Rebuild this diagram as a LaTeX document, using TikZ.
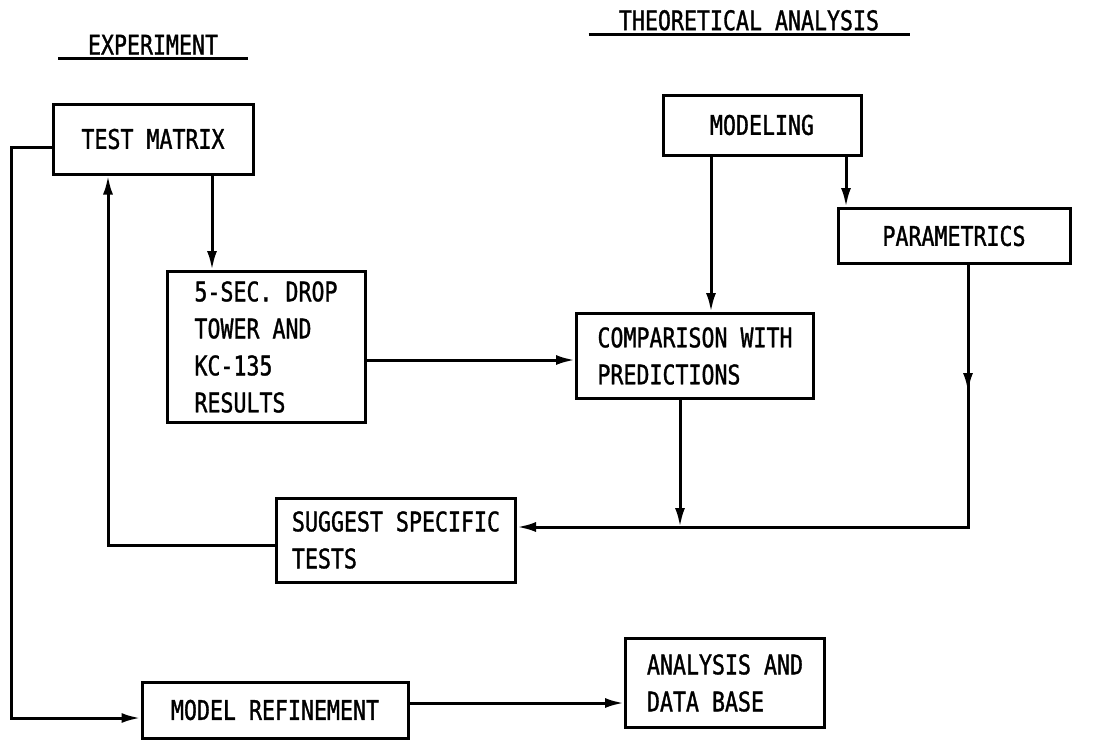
\documentclass[tikz,border=0pt]{standalone}
\usepackage{fontspec}
\setmainfont{DejaVu Sans Mono}[FakeStretch=0.8, FakeBold=1.2]
\usetikzlibrary{arrows.meta}

\begin{document}
\begin{tikzpicture}[x=1pt, y=-1pt, line width=3pt,
    every node/.style={font=\fontsize{27}{37}\selectfont},
    caja/.style={draw, align=left, inner sep=0pt},
    titulo/.style={inner sep=0pt, anchor=south},
    flecha/.style={-{Latex[length=19pt,width=10pt]}}]
    \useasboundingbox (0,0) rectangle (1096,740);
    % Titulos subrayados
    \node[titulo, minimum width=187] (exp) at (153,56) {EXPERIMENT};
    \node[titulo, minimum width=318] (teo) at (749,32) {THEORETICAL ANALYSIS};
    \draw ([yshift=-2pt]exp.south west) -- ([yshift=-2pt]exp.south east);
    \draw ([yshift=-2pt]teo.south west) -- ([yshift=-2pt]teo.south east);
    % Cajas
    \node[caja, minimum width=200, minimum height=70] (tm) at (153,139) {TEST MATRIX};
    \node[caja, minimum width=198, minimum height=151] (drop) at (266,347)
        {5-SEC. DROP\\TOWER AND\\KC-135\\RESULTS};
    \node[caja, minimum width=198, minimum height=60] (model) at (762,125) {MODELING};
    \node[caja, minimum width=232, minimum height=55] (param) at (954,236) {PARAMETRICS};
    \node[caja, minimum width=237, minimum height=85] (comp) at (695,356)
        {COMPARISON WITH\\PREDICTIONS};
    \node[caja, minimum width=239, minimum height=84] (sugg) at (396,540)
        {SUGGEST SPECIFIC\\TESTS};
    \node[caja, minimum width=266, minimum height=56] (refine) at (275,710) {MODEL REFINEMENT};
    \node[caja, minimum width=199, minimum height=89] (adb) at (725,683)
        {ANALYSIS AND\\DATA BASE};
    % Experimento
    \draw[flecha] (tm.south -| 212,0) -- (drop.north -| 212,0);
    \draw[flecha] (drop.east |- 0,360) -- (comp.west |- 0,360);
    % Modelado
    \draw[flecha] (model.south -| 711,0) -- (comp.north -| 711,0);
    \draw[flecha] (model.south -| 846,0) -- (param.north -| 846,0);
    % Retorno hacia las pruebas
    \coordinate (p1) at (968,392);
    \coordinate (p2) at (968,527);
    \coordinate (p3) at (680,527);
    \draw[flecha] (param.south -| p1) -- (p2) -- (sugg.east |- p2);
    \draw[flecha] (param.south -| p1) -- (p1);
    \draw[flecha] (comp.south -| p3) -- (p3);
    \coordinate (q1) at (108,545);
    \draw[flecha] (sugg.west |- q1) -- (q1) -- (tm.south -| q1);
    % Refinamiento del modelo
    \coordinate (r1) at (11,147);
    \coordinate (r2) at (11,718);
    \draw[flecha] (tm.west |- r1) -- (r1) -- (r2) -- (refine.west |- r2);
    \draw[flecha] (refine.east |- 0,703) -- (adb.west |- 0,703);
\end{tikzpicture}
\end{document}
